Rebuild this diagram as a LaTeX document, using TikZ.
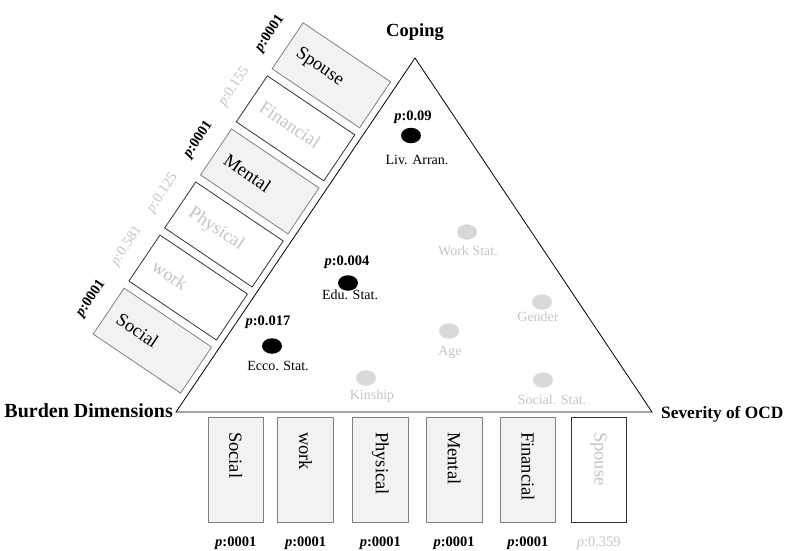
\documentclass[tikz,border=0pt]{standalone}
\usepackage{fontspec}
\setmainfont{Liberation Serif}
\usetikzlibrary{calc,shapes.geometric,positioning}
\definecolor{rellenogris}{HTML}{F2F2F2}
\definecolor{textogris}{HTML}{C4C4C4}
\definecolor{puntogris}{HTML}{D9D9D9}
\newcommand{\pval}[1]{\textit{p}:#1}
\tikzset{
    titulo/.style={inner sep=0pt,font=\fontsize{18.5}{20}\selectfont\bfseries},
    caja/.style={draw=black!50,fill=rellenogris,line width=0.8pt,minimum width=55.5pt,minimum height=105.5pt,inner sep=0pt},
    cajavacia/.style={caja,draw=black!80,fill=white},
    dim/.style={inner sep=0pt,anchor=west,font=\fontsize{18.5}{20}\selectfont},
    dimvacia/.style={dim,text=textogris},
    pnum/.style={inner sep=0pt,font=\fontsize{14.5}{16}\selectfont\bfseries},
    pnumvacio/.style={inner sep=0pt,font=\fontsize{14.5}{16}\selectfont,text=textogris},
    punto/.style={ellipse,fill=black,minimum width=20pt,minimum height=15.5pt,inner sep=0pt},
    puntovacio/.style={punto,fill=puntogris},
    factor/.style={inner sep=0pt,font=\fontsize{14}{16}\selectfont},
    factorvacio/.style={factor,text=textogris},
}
\begin{document}
\begin{tikzpicture}[x=1pt,y=1pt]
\useasboundingbox (0,-550) rectangle (787,0);
\coordinate (burden) at (176,-412);
\coordinate (severity) at (652,-412);
\coordinate (coping) at (415,-58);
\draw[line width=0.8pt] (burden) -- (severity) -- (coping) -- cycle;

\node[titulo,anchor=base] (tcoping) at (415,-36) {Coping};
\node[titulo,anchor=base east,font=\fontsize{20}{22}\selectfont\bfseries] (tburden) at (173,-417) {Burden Dimensions};
\node[titulo,anchor=base west,font=\fontsize{17.3}{20}\selectfont\bfseries] (tseverity) at (661,-418) {Severity of OCD};

\begin{scope}[shift={(burden)},rotate=56]
\node[caja,rotate=56]      (lsocial)    at (46,59.5)  {};
\node[cajavacia,rotate=56] (lwork)      at (110,59.5) {};
\node[cajavacia,rotate=56] (lphysical)  at (174,59.5) {};
\node[caja,rotate=56]      (lmental)    at (238,59.5) {};
\node[cajavacia,rotate=56] (lfinancial) at (302,59.5) {};
\node[caja,rotate=56]      (lspouse)    at (366,59.5) {};
\end{scope}

\node[dim,rotate=-34]      (tlsocial)    at ($(lsocial.north)!12pt!(lsocial.south)$)       {Social};
\node[dimvacia,rotate=-34] (tlwork)      at ($(lwork.north)!12pt!(lwork.south)$)           {work};
\node[dimvacia,rotate=-34] (tlphysical)  at ($(lphysical.north)!12pt!(lphysical.south)$)   {Physical};
\node[dim,rotate=-34]      (tlmental)    at ($(lmental.north)!12pt!(lmental.south)$)       {Mental};
\node[dimvacia,rotate=-34] (tlfinancial) at ($(lfinancial.north)!12pt!(lfinancial.south)$) {Financial};
\node[dim,rotate=-34]      (tlspouse)    at ($(lspouse.north)!12pt!(lspouse.south)$)       {Spouse};

\node[pnum,rotate=56]      (plsocial)    at ($(lsocial.north)!-21pt!(lsocial.south)$)       {\pval{0001}};
\node[pnumvacio,rotate=56] (plwork)      at ($(lwork.north)!-21pt!(lwork.south)$)           {\pval{0.581}};
\node[pnumvacio,rotate=56] (plphysical)  at ($(lphysical.north)!-21pt!(lphysical.south)$)   {\pval{0.125}};
\node[pnum,rotate=56]      (plmental)    at ($(lmental.north)!-21pt!(lmental.south)$)       {\pval{0001}};
\node[pnumvacio,rotate=56] (plfinancial) at ($(lfinancial.north)!-21pt!(lfinancial.south)$) {\pval{0.155}};
\node[pnum,rotate=56]      (plspouse)    at ($(lspouse.north)!-21pt!(lspouse.south)$)       {\pval{0001}};

\node[caja] (bsocial) at (235.75,-470) {};
\node[caja,right=13.5pt of bsocial]      (bwork)      {};
\node[caja,right=18.5pt of bwork]        (bphysical)  {};
\node[caja,right=17.5pt of bphysical]    (bmental)    {};
\node[caja,right=17.5pt of bmental]      (bfinancial) {};
\node[cajavacia,right=14.5pt of bfinancial] (bspouse) {};

\node[dim,rotate=-90]      (tbsocial)    at ([yshift=-15pt]bsocial.north)    {Social};
\node[dim,rotate=-90]      (tbwork)      at ([yshift=-15pt]bwork.north)      {work};
\node[dim,rotate=-90]      (tbphysical)  at ([yshift=-15pt]bphysical.north)  {Physical};
\node[dim,rotate=-90]      (tbmental)    at ([yshift=-15pt]bmental.north)    {Mental};
\node[dim,rotate=-90]      (tbfinancial) at ([yshift=-15pt]bfinancial.north) {Financial};
\node[dimvacia,rotate=-90] (tbspouse)    at ([yshift=-15pt]bspouse.north)    {Spouse};

\node[pnum,below=13pt of bsocial]         (pbsocial)    {\pval{0001}};
\node[pnum,below=13pt of bwork]           (pbwork)      {\pval{0001}};
\node[pnum,below=13pt of bphysical]       (pbphysical)  {\pval{0001}};
\node[pnum,below=13pt of bmental]         (pbmental)    {\pval{0001}};
\node[pnum,below=13pt of bfinancial]      (pbfinancial) {\pval{0001}};
\node[pnumvacio,below=13pt of bspouse]    (pbspouse)    {\pval{0.359}};

\node[punto] (liv)  at (411,-135.5) {};
\node[pnum]   (pliv) at (413,-117)  {\pval{0.09}};
\node[factor] (tliv) at (417,-160)  {Liv. Arran.};
\node[punto] (edu)  at (348,-283) {};
\node[pnum]   (pedu) at (347,-262) {\pval{0.004}};
\node[factor] (tedu) at (350,-295) {Edu. Stat.};
\node[punto] (ecco)  at (272,-346) {};
\node[pnum]   (pecco) at (268,-322) {\pval{0.017}};
\node[factor] (tecco) at (278,-366) {Ecco. Stat.};

\node[puntovacio]  (work)     at (467,-232) {};
\node[factorvacio] (twork)    at (468,-251) {Work Stat.};
\node[puntovacio]  (gender)   at (542,-302) {};
\node[factorvacio] (tgender)  at (538,-317) {Gender};
\node[puntovacio]  (age)      at (449,-331) {};
\node[factorvacio] (tage)     at (450,-352) {Age};
\node[puntovacio]  (kinship)  at (366,-378) {};
\node[factorvacio] (tkinship) at (372,-396) {Kinship};
\node[puntovacio]  (sstat)    at (543,-380) {};
\node[factorvacio] (tsstat)   at (552,-400) {Social. Stat.};
\end{tikzpicture}
\end{document}
